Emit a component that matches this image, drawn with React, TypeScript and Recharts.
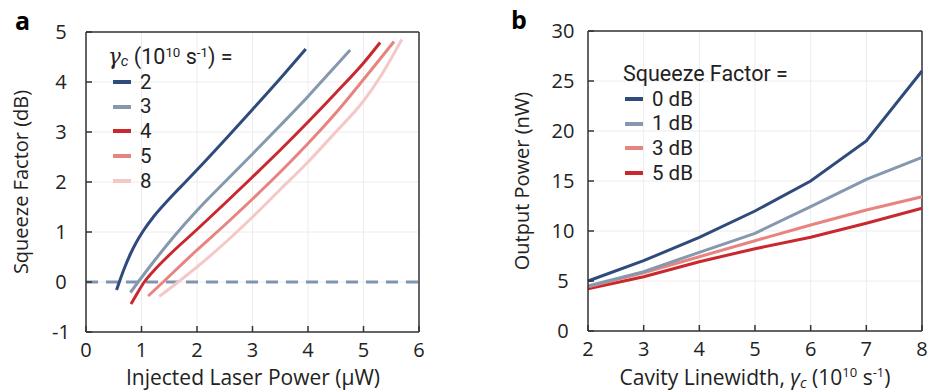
import React from 'react';
import { LineChart, Line, XAxis, YAxis, CartesianGrid, ReferenceLine } from 'recharts';

// ---------- Panel a data ----------
const gammaLabels = ['2', '3', '4', '5', '8'];
const gammaColors = ['#2f4b7c', '#8598ae', '#c9282e', '#e8847f', '#f5c8c8'];

const powerG2 = [0.55, 0.6, 0.7, 0.8, 0.9, 1.03, 1.2, 1.4, 1.6, 1.8, 2.1, 2.55, 3.0, 3.5, 3.96];
const squeezeG2 = [-0.16, 0, 0.3, 0.56, 0.78, 1.02, 1.28, 1.54, 1.78, 2.01, 2.36, 2.9, 3.45, 4.07, 4.66];

const powerG3 = [0.8, 0.94, 1.2, 1.6, 2.0, 2.5, 3.0, 3.5, 4.0, 4.4, 4.76];
const squeezeG3 = [-0.21, 0, 0.38, 0.93, 1.43, 2.0, 2.56, 3.13, 3.71, 4.2, 4.64];

const powerG4 = [0.81, 0.9, 1.05, 1.25, 1.5, 2.0, 2.5, 3.0, 3.5, 4.0, 4.5, 5.0, 5.3];
const squeezeG4 = [-0.44, -0.27, 0, 0.26, 0.54, 1.05, 1.57, 2.1, 2.64, 3.2, 3.78, 4.38, 4.79];

const powerG5 = [1.12, 1.39, 2.0, 2.5, 3.0, 3.5, 4.0, 4.5, 5.0, 5.55];
const squeezeG5 = [-0.28, 0, 0.64, 1.14, 1.66, 2.2, 2.77, 3.38, 4.05, 4.81];

const powerG8 = [1.32, 1.66, 2.0, 2.5, 3.0, 3.5, 4.0, 4.5, 5.0, 5.3, 5.69];
const squeezeG8 = [-0.29, 0, 0.3, 0.78, 1.3, 1.85, 2.4, 3.0, 3.62, 4.1, 4.85];

const powerTicks = [0, 1, 2, 3, 4, 5, 6];
const squeezeTicks = [-1, 0, 1, 2, 3, 4, 5];

// ---------- Panel b data ----------
const linewidths = [2, 3, 4, 5, 6, 7, 8];
const sqLabels = ['0 dB', '1 dB', '3 dB', '5 dB'];
const sqColors = ['#2f4b7c', '#8598ae', '#e8847f', '#c9282e'];
const out0dB = [5.0, 7.03, 9.37, 12.0, 15.0, 19.0, 26.0];
const out1dB = [4.5, 5.93, 7.87, 9.77, 12.43, 15.17, 17.37];
const out3dB = [4.43, 5.83, 7.43, 9.03, 10.6, 12.1, 13.43];
const out5dB = [4.23, 5.43, 6.93, 8.23, 9.37, 10.77, 12.27];
const outputTicks = [0, 5, 10, 15, 20, 25, 30];

// ---------- built tables ----------
const zipXY = (xs: number[], ys: number[]) => xs.map((x, i) => ({ x, y: ys[i] }));
const gammaSeries = [
  zipXY(powerG2, squeezeG2),
  zipXY(powerG3, squeezeG3),
  zipXY(powerG4, squeezeG4),
  zipXY(powerG5, squeezeG5),
  zipXY(powerG8, squeezeG8),
];
const outKeys = ['s0', 's1', 's3', 's5'];
const outSeries = [out0dB, out1dB, out3dB, out5dB];
const outRows = linewidths.map((w, i) => {
  const r: any = { w };
  outKeys.forEach((k, j) => (r[k] = outSeries[j][i]));
  return r;
});

const FONT = '"Open Sans", "Noto Sans", sans-serif';
const LEGEND_FONT = 'Roboto, "Open Sans", sans-serif';
const AXIS = '#333333';
const TEXT = '#222222';
const TICK_LEN = 6;
const X_GAP = 18;
const Y_GAP = 25;

// tick label + inward tick mark
const XTick = (props: any) => {
  const { x, y, payload } = props;
  const axisY = y - X_GAP;
  return (
    <g>
      <line x1={x} x2={x} y1={axisY} y2={axisY - TICK_LEN} stroke={AXIS} strokeWidth={1.5} />
      <text x={x} y={y} dy="0.36em" textAnchor="middle" fontSize={20} fill={TEXT} fontFamily={FONT}>
        {payload.value}
      </text>
    </g>
  );
};
const YTick = (props: any) => {
  const { x, y, payload } = props;
  const axisX = x + Y_GAP;
  return (
    <g>
      <line x1={axisX} x2={axisX + TICK_LEN} y1={y} y2={y} stroke={AXIS} strokeWidth={1.5} />
      <text x={x} y={y} dy="0.36em" textAnchor="middle" fontSize={20} fill={TEXT} fontFamily={FONT}>
        {payload.value}
      </text>
    </g>
  );
};

const axisLine = { stroke: AXIS, strokeWidth: 1.5 };

const abs = (left: number, top: number, extra: any = {}): React.CSSProperties => ({
  position: 'absolute',
  left,
  top,
  fontFamily: FONT,
  color: TEXT,
  whiteSpace: 'nowrap',
  lineHeight: 1,
  ...extra,
});

const Sup = ({ children }: any) => (
  <sup style={{ fontSize: '0.62em', verticalAlign: '0.55em', lineHeight: 0 }}>{children}</sup>
);
const SubC = ({ shift = '-0.25em' }: any) => (
  <sub style={{ fontSize: '0.7em', fontStyle: 'italic', verticalAlign: shift, lineHeight: 0 }}>c</sub>
);

const ROW_H = 24.8;
const LegendRow = ({ color, label, swatchLeft }: any) => (
  <div style={{ height: ROW_H, display: 'flex', alignItems: 'center', lineHeight: 1 }}>
    <div style={{ width: 18, height: 4, background: color, marginLeft: swatchLeft, marginRight: 9 }} />
    <span style={{ fontSize: 20.5, lineHeight: 1, fontFamily: LEGEND_FONT }}>{label}</span>
  </div>
);

export default function App() {
  return (
    <div style={{ position: 'absolute', left: 0, top: 0, width: 929, height: 392, background: '#fff', fontFamily: FONT }}>
      {/* Panel a */}
      <div style={{ position: 'absolute', left: 0, top: 0 }}>
        <LineChart width={460} height={392} margin={{ top: 32, right: 41, bottom: 30, left: 46 }}>
          <CartesianGrid stroke="#ececec" strokeWidth={1} />
          <XAxis
            type="number"
            dataKey="x"
            domain={[0, 6]}
            ticks={powerTicks}
            interval={0}
            height={30}
            tickSize={0}
            tickMargin={X_GAP}
            tick={XTick}
            tickLine={false}
            axisLine={axisLine}
            allowDataOverflow
          />
          <YAxis
            type="number"
            domain={[-1, 5]}
            ticks={squeezeTicks}
            interval={0}
            width={40}
            tickSize={0}
            tickMargin={Y_GAP}
            tick={YTick}
            tickLine={false}
            axisLine={axisLine}
            allowDataOverflow
          />
          <ReferenceLine y={5} stroke={AXIS} strokeWidth={1.5} />
          <ReferenceLine x={6} stroke={AXIS} strokeWidth={1.5} />
          <ReferenceLine y={0} stroke="#8094b0" strokeWidth={3} strokeDasharray="12 8" />
          {gammaSeries.map((d, i) => (
            <Line
              key={gammaLabels[i]}
              data={d}
              dataKey="y"
              type="monotone"
              stroke={gammaColors[i]}
              strokeWidth={3}
              dot={false}
              isAnimationActive={false}
            />
          ))}
        </LineChart>
      </div>

      {/* Panel b */}
      <div style={{ position: 'absolute', left: 464, top: 0 }}>
        <LineChart width={465} height={392} data={outRows} margin={{ top: 31, right: 7, bottom: 31, left: 84 }}>
          <CartesianGrid stroke="#ececec" strokeWidth={1} />
          <XAxis
            type="number"
            dataKey="w"
            domain={[2, 8]}
            ticks={linewidths}
            interval={0}
            height={30}
            tickSize={0}
            tickMargin={X_GAP}
            tick={XTick}
            tickLine={false}
            axisLine={axisLine}
          />
          <YAxis
            type="number"
            domain={[0, 30]}
            ticks={outputTicks}
            interval={0}
            width={40}
            tickSize={0}
            tickMargin={Y_GAP}
            tick={YTick}
            tickLine={false}
            axisLine={axisLine}
          />
          <ReferenceLine y={30} stroke={AXIS} strokeWidth={1.5} />
          <ReferenceLine x={8} stroke={AXIS} strokeWidth={1.5} />
          {[3, 2, 1, 0].map((j) => (
            <Line
              key={outKeys[j]}
              dataKey={outKeys[j]}
              type="linear"
              stroke={sqColors[j]}
              strokeWidth={3}
              dot={false}
              isAnimationActive={false}
            />
          ))}
        </LineChart>
      </div>

      {/* Panel labels */}
      <div style={abs(15, 8, { fontSize: 25, fontWeight: 700, color: '#000' })}>a</div>
      <div style={abs(511, 7, { fontSize: 25, fontWeight: 700, color: '#000' })}>b</div>

      {/* Axis titles */}
      <div style={abs(253, 377, { fontSize: 21, transform: 'translate(-50%, -50%)' })}>Injected Laser Power (μW)</div>
      <div style={abs(21, 182, { fontSize: 20, transform: 'translate(-50%, -50%) rotate(-90deg)' })}>Squeeze Factor (dB)</div>
      <div style={abs(755, 377, { fontSize: 21, transform: 'translate(-50%, -50%)' })}>
        Cavity Linewidth, <i>γ</i>
        <SubC /> (10<Sup>10</Sup> s<Sup>-1</Sup>)
      </div>
      <div style={abs(522, 181, { fontSize: 20, transform: 'translate(-50%, -50%) rotate(-90deg)' })}>Output Power (nW)</div>

      {/* Legend a */}
      <div style={abs(108, 44.6, { fontFamily: LEGEND_FONT })}>
        <div style={{ height: ROW_H, display: 'flex', alignItems: 'center', fontSize: 21.5, lineHeight: 1 }}>
          <span style={{ lineHeight: 1 }}>
            <i style={{ fontFamily: '"DejaVu Serif", serif' }}>γ</i>
            <SubC shift="-0.15em" /> (10<Sup>10</Sup> s<Sup>-1</Sup>) =
          </span>
        </div>
        {gammaLabels.map((g, i) => (
          <LegendRow key={g} color={gammaColors[i]} label={g} swatchLeft={5} />
        ))}
      </div>

      {/* Legend b */}
      <div style={abs(623, 61.6, { fontFamily: LEGEND_FONT })}>
        <div style={{ height: ROW_H, display: 'flex', alignItems: 'center', fontSize: 21.5, lineHeight: 1 }}>
          <span style={{ lineHeight: 1 }}>Squeeze Factor =</span>
        </div>
        {sqLabels.map((s, i) => (
          <LegendRow key={s} color={sqColors[i]} label={s} swatchLeft={2} />
        ))}
      </div>
    </div>
  );
}
